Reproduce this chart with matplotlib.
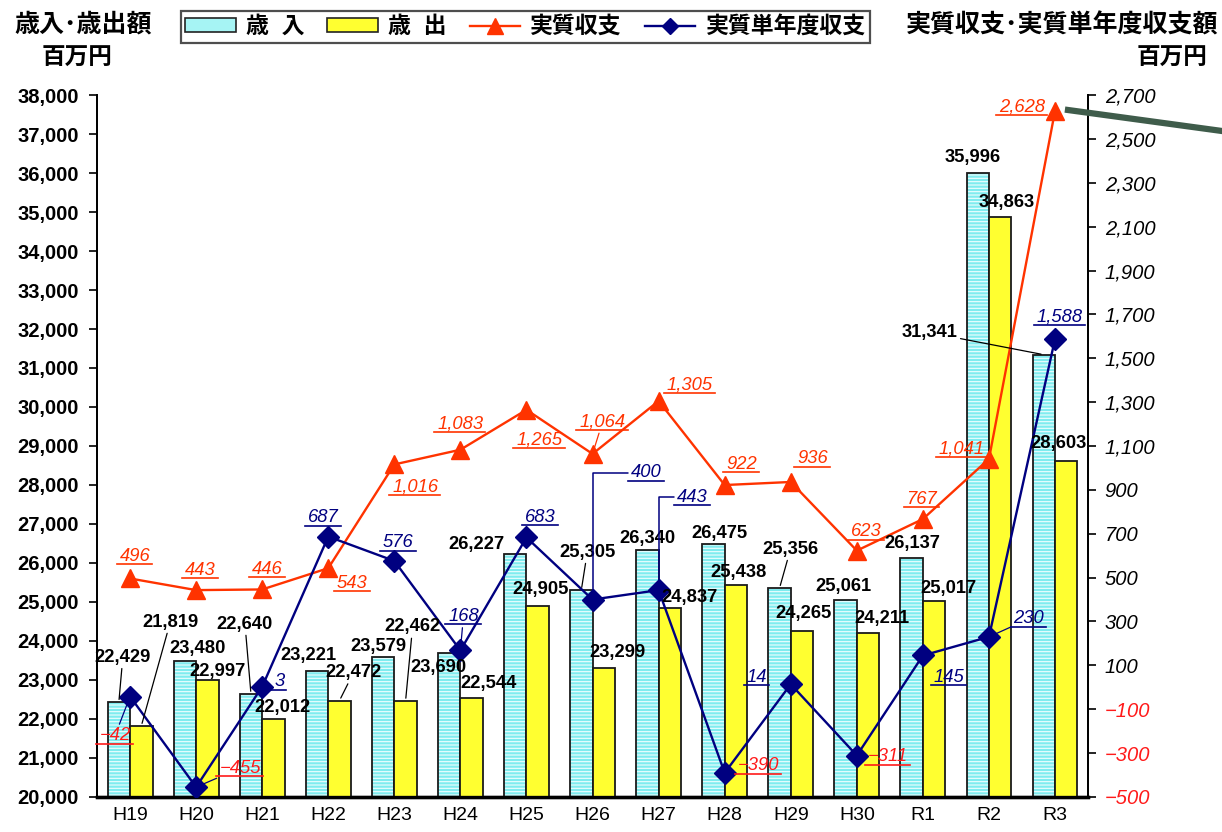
import matplotlib
matplotlib.use("Agg")

import matplotlib.pyplot as plt
from matplotlib.lines import Line2D
from matplotlib.patches import Patch
from matplotlib.text import Text
from matplotlib.ticker import FuncFormatter

plt.rcParams["font.family"] = ["Liberation Sans", "Noto Sans CJK JP", "DejaVu Sans"]
plt.rcParams["hatch.linewidth"] = 0.8

years = ["H19", "H20", "H21", "H22", "H23", "H24", "H25", "H26",
         "H27", "H28", "H29", "H30", "R1", "R2", "R3"]
revenue = [22429, 23480, 22640, 23221, 23579, 23690, 26227, 25305,
           26340, 26475, 25356, 25061, 26137, 35996, 31341]
expenditure = [21819, 22997, 22012, 22472, 22462, 22544, 24905, 23299,
               24837, 25438, 24265, 24211, 25017, 34863, 28603]
real_balance = [496, 443, 446, 543, 1016, 1083, 1265, 1064,
                1305, 922, 936, 623, 767, 1041, 2628]
single_year_balance = [-42, -455, 3, 687, 576, 168, 683, 400,
                       443, -390, 14, -311, 145, 230, 1588]

# label placement, pixel offsets from the anchor (dx, dy) and leader flag
rev_offsets = [(4, 45), (13, 13), (-6, 70), (-9, 16), (-5, 11), (-11, -14), (-39, 10),
               (6, 38), (0, 11), (6, 11), (11, 39), (-2, 13), (1, 14), (-5, 16), (-114, 22)]
rev_leader = [1, 0, 1, 0, 0, 0, 0, 1, 0, 0, 1, 0, 0, 0, 1]
exp_offsets = [(29, 104), (10, 9), (9, 11), (14, 28), (7, 74), (17, 14), (3, 16),
               (14, 16), (20, 11), (3, 12), (2, 17), (14, 14), (14, 13), (6, 15), (-8, 18)]
exp_leader = [1, 0, 0, 1, 1, 0, 0, 0, 0, 0, 0, 0, 0, 0, 0]
real_offsets = [(5, 22), (4, 20), (5, 20), (24, -15), (21, -23), (0, 26), (13, -30),
                (10, 32), (31, 16), (17, 21), (22, 23), (10, 19), (-1, 20), (-27, 10), (-33, 4)]
real_leader = [0, 0, 0, 0, 0, 0, 0, 1, 0, 0, 0, 0, 0, 0, 0]
single_offsets = [(-15, -39), (44, 19), (17, 5), (-5, 19), (4, 18), (3, 34), (14, 20),
                  (54, 127), (34, 93), (34, 7), (-34, 7), (31, -1), (26, -22), (40, 18), (5, 22)]
single_leader = [1, 1, 0, 0, 0, 1, 0, 2, 2, 0, 0, 0, 0, 1, 0]

CYAN = "#80ecef"
YELLOW = "#ffff30"
RED = "#ff3300"
NAVY = "#000080"
NEG_RED = "#ff1a1a"

fig = plt.figure(figsize=(12.22, 8.32), dpi=100)
ax = fig.add_axes([0.0794, 0.0421, 0.8110, 0.8437])
ax2 = ax.twinx()

x = list(range(len(years)))
w = 0.34
x_rev = [i - w / 2 for i in x]
x_exp = [i + w / 2 for i in x]

ax.bar(x_rev, [v - 20000 for v in revenue], w, bottom=20000, color=CYAN,
       edgecolor="#f0ffff", hatch="-----", linewidth=0, zorder=2)
ax.bar(x_rev, [v - 20000 for v in revenue], w, bottom=20000, fill=False,
       edgecolor="#1a1a1a", linewidth=1.3, zorder=3)
ax.bar(x_exp, [v - 20000 for v in expenditure], w, bottom=20000, color=YELLOW,
       edgecolor="#1a1a1a", linewidth=1.3, zorder=3)

ax.set_xlim(-0.5, len(years) - 0.5)
ax.set_ylim(20000, 38000)
ax.set_yticks(range(20000, 38001, 1000))
ax.yaxis.set_major_formatter(FuncFormatter(lambda v, p: f"{v:,.0f}"))
ax.set_xticks(x)
ax.set_xticklabels(years, fontsize=14)
ax.tick_params(axis="x", length=0, pad=7)
ax.tick_params(axis="y", direction="out", length=6, width=1.2, labelsize=14.5, pad=7)
for t in ax.get_yticklabels():
    t.set_fontweight("bold")

ax2.plot(x, real_balance, color=RED, lw=1.7, marker="^", markersize=13, zorder=4)
ax2.plot(x, single_year_balance, color=NAVY, lw=1.7, marker="D", markersize=11, zorder=4)
ax2.set_ylim(-500, 2700)
ax2.set_yticks(range(-500, 2701, 200))
ax2.yaxis.set_major_formatter(FuncFormatter(lambda v, p: f"{v:,.0f}".replace("-", "\u2212")))
ax2.tick_params(axis="y", direction="out", length=6, width=1.2, labelsize=14.5, pad=6)
for t, v in zip(ax2.get_yticklabels(), range(-500, 2701, 200)):
    t.set_fontstyle("italic")
    t.set_color(NEG_RED if v < 0 else "black")

for a in (ax, ax2):
    a.spines["top"].set_visible(False)
    a.spines["left"].set_linewidth(1.3)
    a.spines["right"].set_linewidth(1.3)
    a.spines["bottom"].set_linewidth(2.4)

underlined = []


def fmt(v):
    return f"{v:,}".replace("-", "\u2212")


def put_label(xv, yv, coords, text, offset, leader, color, italic, lcolor):
    props = None
    if leader == 1:
        props = dict(arrowstyle="-", color=lcolor, lw=0.9, shrinkA=0, shrinkB=2)
    elif leader == 2:
        props = dict(arrowstyle="-", color=lcolor, lw=1.1, shrinkA=0, shrinkB=4,
                     relpos=(0, 0.5), connectionstyle="angle,angleA=0,angleB=90,rad=0")
    t = ax2.annotate(text, xy=(xv, yv), xycoords=coords, xytext=offset,
                     textcoords="offset pixels", ha="center", va="center",
                     color=color, fontsize=13.2,
                     fontweight="normal" if italic else "bold",
                     fontstyle="italic" if italic else "normal",
                     arrowprops=props, zorder=6, annotation_clip=False)
    if italic:
        underlined.append(t)


for i in x:
    put_label(x_rev[i], revenue[i], ax.transData, fmt(revenue[i]), rev_offsets[i],
              rev_leader[i], "black", False, "black")
    put_label(x_exp[i], expenditure[i], ax.transData, fmt(expenditure[i]), exp_offsets[i],
              exp_leader[i], "black", False, "black")
    put_label(i, real_balance[i], ax2.transData, fmt(real_balance[i]), real_offsets[i],
              real_leader[i], RED, True, RED)
    sv = single_year_balance[i]
    put_label(i, sv, ax2.transData, fmt(sv), single_offsets[i], single_leader[i],
              NEG_RED if sv < 0 else NAVY, True, NAVY)

handles = [
    Patch(facecolor="#a6f4f4", edgecolor="#222222", linewidth=1.2),
    Patch(facecolor=YELLOW, edgecolor="#222222", linewidth=1.2),
    Line2D([], [], color=RED, lw=1.7, marker="^", markersize=12),
    Line2D([], [], color=NAVY, lw=1.7, marker="D", markersize=8),
]
labels = ["歳  入", "歳  出", "実質収支", "実質単年度収支"]
leg = fig.legend(handles, labels, loc="center", bbox_to_anchor=(0.430, 0.968), ncol=4,
                 frameon=True, fancybox=False, edgecolor="#222222",
                 handlelength=2.2, handleheight=0.5, handletextpad=0.45,
                 columnspacing=1.0, borderpad=0.2, prop={"weight": "bold", "size": 16.5})
leg.get_frame().set_linewidth(1.6)

fig.text(0.068, 0.970, "歳入･歳出額", ha="center", va="center", fontsize=18, fontweight="bold")
fig.text(0.063, 0.930, "百万円", ha="center", va="center", fontsize=17, fontweight="bold")
fig.text(0.869, 0.970, "実質収支･実質単年度収支額", ha="center", va="center",
         fontsize=18, fontweight="bold")
fig.text(0.959, 0.930, "百万円", ha="center", va="center", fontsize=17, fontweight="bold")

# thick pointer line running off the top right corner
fig.add_artist(Line2D([1068 / 1222, 1.0], [1 - 110 / 832, 1 - 131 / 832],
                      transform=fig.transFigure, color="#3f5c4b", lw=4.5))

fig.canvas.draw()
renderer = fig.canvas.get_renderer()
W, H = fig.bbox.width, fig.bbox.height
for t in underlined:
    bb = Text.get_window_extent(t, renderer)
    y = bb.y0 + 0.5
    fig.add_artist(Line2D([(bb.x0 - 3) / W, (bb.x1 + 2) / W], [y / H, y / H],
                          transform=fig.transFigure, color=t.get_color(), lw=1.2))

fig.savefig("out.png", dpi=100)
plt.close(fig)
